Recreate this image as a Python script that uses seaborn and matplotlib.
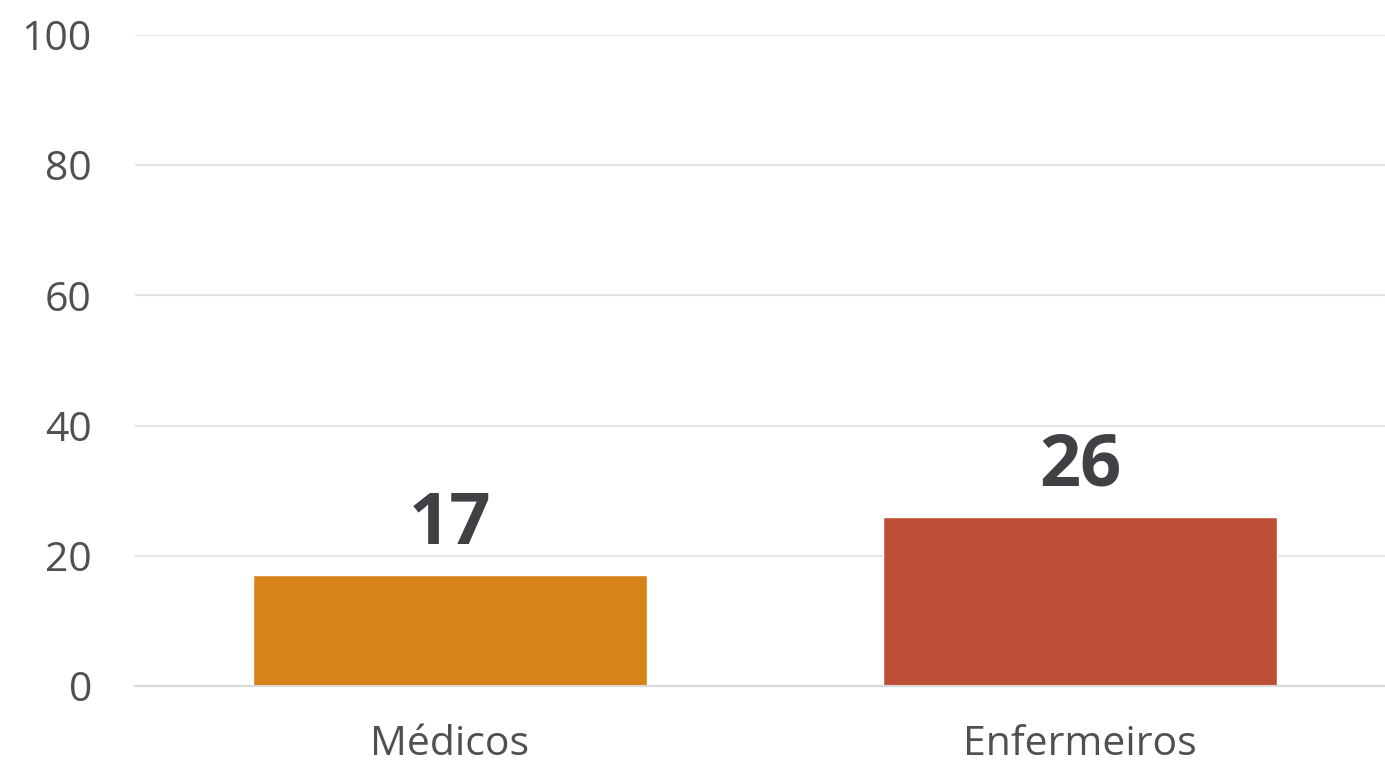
import matplotlib
matplotlib.use('Agg')
import matplotlib.pyplot as plt
import pandas as pd
import seaborn as sns

categorias = ['Médicos', 'Enfermeiros']
valores = [17, 26]
cores = ['#D8821A', '#BE4F37']

df = pd.DataFrame({'categoria': categorias, 'valor': valores})

sns.set_style('white')
plt.rcParams['font.family'] = ['Open Sans', 'DejaVu Sans']

fig = plt.figure(figsize=(13.85, 7.66), dpi=100)
ax = fig.add_axes([0.0975, 0.1044, 0.9025, 0.8499])

sns.barplot(data=df, x='categoria', y='valor', hue='categoria', palette=cores,
            width=0.625, legend=False, ax=ax, saturation=1)

txt = '#404045'
for i, v in enumerate(valores):
    ax.text(i, v + 2.2, str(v), ha='center', va='bottom', fontsize=52,
            fontweight='bold', color=txt)

ax.set_ylim(0, 100)
ax.set_xlim(-0.5, 1.484)
ax.set_yticks(range(0, 101, 20))
ax.yaxis.grid(True, color='#E4E4E4', linewidth=1.5)
ax.set_axisbelow(True)
for s in ['top', 'right', 'left']:
    ax.spines[s].set_visible(False)
ax.spines['bottom'].set_color('#D9D9D9')
ax.spines['bottom'].set_linewidth(1.5)
ax.tick_params(axis='both', length=0, labelsize=29.5, colors='#505050')
ax.tick_params(axis='y', pad=31)
ax.tick_params(axis='x', pad=28)
ax.set_xlabel('')
ax.set_ylabel('')

plt.savefig('out.png', dpi=100)
